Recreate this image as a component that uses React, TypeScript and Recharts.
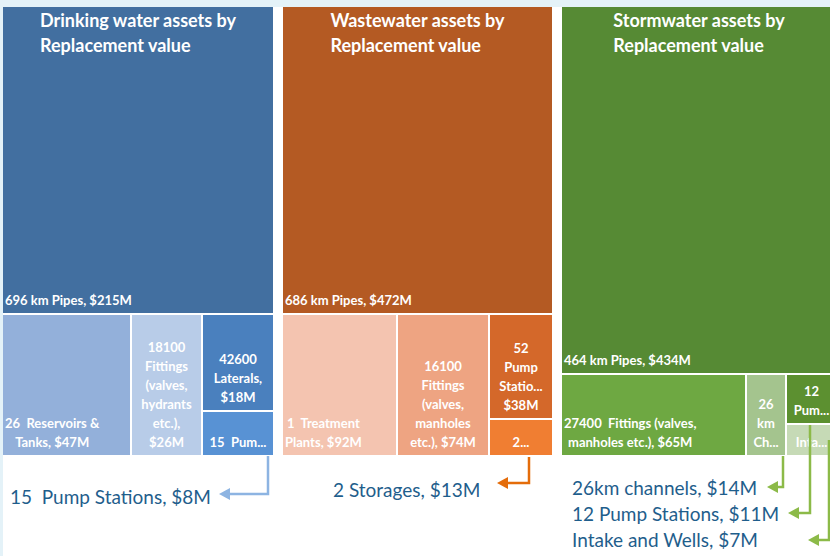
import React from 'react';
import { Treemap } from 'recharts';

// drinking water
const drinkingNames = ['Pipes', 'Reservoirs & Tanks', 'Fittings', 'Laterals', 'Pump Stations'];
const drinkingValues = [215, 47, 26, 18, 8];
const drinkingLabels = [
  ['696 km Pipes, $215M'],
  ['26  Reservoirs &', 'Tanks, $47M'],
  ['18100', 'Fittings', '(valves,', 'hydrants', 'etc.),', '$26M'],
  ['42600', 'Laterals,', '$18M'],
  ['15  Pum...'],
];
const drinkingColors = ['#426FA0', '#93B0DA', '#B8CCE8', '#4A80BE', '#5892D4'];

// wastewater
const wasteNames = ['Pipes', 'Treatment Plants', 'Fittings', 'Pump Stations', 'Storages'];
const wasteValues = [472, 92, 74, 38, 13];
const wasteLabels = [
  ['686 km Pipes, $472M'],
  ['1  Treatment', 'Plants, $92M'],
  ['16100', 'Fittings', '(valves,', 'manholes', 'etc.), $74M'],
  ['52', 'Pump', 'Statio...', '$38M'],
  ['2...'],
];
const wasteColors = ['#B45A23', '#F4C4B0', '#EEA482', '#D4682A', '#F07E32'];

// stormwater
const stormNames = ['Pipes', 'Fittings', 'Channels', 'Pump Stations', 'Intake and Wells'];
const stormValues = [434, 65, 14, 11, 7];
const stormLabels = [
  ['464 km Pipes, $434M'],
  ['27400  Fittings (valves,', 'manholes etc.), $65M'],
  ['26', 'km', 'Ch...'],
  ['12', 'Pum...'],
  ['Inta...'],
];
const stormColors = ['#568A34', '#6EA842', '#A4C48E', '#5C9030', '#C6DAB6'];

const titles = [
  ['Drinking water assets by', 'Replacement value'],
  ['Wastewater assets by', 'Replacement value'],
  ['Stormwater assets by', 'Replacement value'],
];

const callouts = [
  { text: '15  Pump Stations, $8M', color: '#8DB4E2', pts: [[268, 456], [268, 494], [228, 494]], tip: [219, 494], tx: 10, ty: 504 },
  { text: '2 Storages, $13M', color: '#E46C0A', pts: [[529, 457], [529, 483], [506, 483]], tip: [497, 483], tx: 333, ty: 497 },
  { text: '26km channels, $14M', color: '#8CBA48', pts: [[783, 456], [783, 487], [776, 487]], tip: [767, 487], tx: 572, ty: 495 },
  { text: '12 Pump Stations, $11M', color: '#8CBA48', pts: [[810, 425], [810, 513], [797, 513]], tip: [788, 513], tx: 572, ty: 521 },
  { text: 'Intake and Wells, $7M', color: '#8CBA48', pts: [[829, 440], [829, 540], [817, 540]], tip: [808, 540], tx: 572, ty: 547 },
];

const build = (names: string[], values: number[], labels: string[][]) =>
  names.map((name, i) => ({ name, value: values[i], lines: labels[i] }));

const panels = [
  { data: build(drinkingNames, drinkingValues, drinkingLabels), colors: drinkingColors, title: titles[0], left: 2, width: 272 },
  { data: build(wasteNames, wasteValues, wasteLabels), colors: wasteColors, title: titles[1], left: 282, width: 271 },
  { data: build(stormNames, stormValues, stormLabels), colors: stormColors, title: titles[2], left: 561, width: 276 },
];

const FONT = 'Lato, "Open Sans", sans-serif';

function Cell(props: any) {
  const { x, y, width, height, depth, index, lines, colors, title } = props;
  if (depth !== 1) return null;
  const narrow = width < 100;
  return (
    <g>
      <rect x={x + 1} y={y + 1} width={width - 2} height={height - 2} fill={colors[index]} />
      {index === 0 && (
        <foreignObject x={x + 1} y={y + 1} width={width - 2} height={60}>
          <div style={{ display: 'flex', justifyContent: 'center', paddingTop: 1 }}>
            <div style={{ textAlign: 'left', color: '#fff', fontFamily: FONT, fontWeight: 700, fontSize: 18, lineHeight: '25px' }}>
              {title.map((t: string) => <div key={t}>{t}</div>)}
            </div>
          </div>
        </foreignObject>
      )}
      <foreignObject x={x + 1} y={y + 1} width={Math.max(width - 2, 0)} height={Math.max(height - 2, 0)}>
        <div
          style={{
            width: '100%', height: '100%', boxSizing: 'border-box', overflow: 'hidden',
            display: 'flex', flexDirection: 'column', justifyContent: 'flex-end',
            alignItems: narrow ? 'center' : 'flex-start', padding: narrow ? '0 0 3px 0' : '0 3px 3px 2px',
          }}
        >
          <div style={{ textAlign: 'center', color: '#fff', fontFamily: FONT, fontWeight: 700, fontSize: 13, lineHeight: '19px', whiteSpace: 'pre' }}>
            {(lines || []).join('\n')}
          </div>
        </div>
      </foreignObject>
    </g>
  );
}

export default function App() {
  return (
    <div style={{ position: 'absolute', left: 0, top: 0, width: 830, height: 556, overflow: 'hidden', background: '#E4F2F8' }}>
      <div style={{ position: 'absolute', left: 3, top: 7, right: 0, bottom: 0, background: '#fff' }} />
      {panels.map((p, i) => (
        <div key={i} style={{ position: 'absolute', left: p.left, top: 6 }}>
          <Treemap
            width={p.width}
            height={450}
            data={p.data}
            dataKey="value"
            aspectRatio={0.8}
            isAnimationActive={false}
            content={(c: any) => <Cell {...c} colors={p.colors} title={p.title} />}
          />
        </div>
      ))}
      <svg width={830} height={556} style={{ position: 'absolute', left: 0, top: 0, pointerEvents: 'none' }}>
        {callouts.map((c, i) => (
          <g key={i}>
            <polyline points={c.pts.map((q) => q.join(',')).join(' ')} fill="none" stroke={c.color} strokeWidth={2.5} />
            <polygon points={`${c.tip[0]},${c.tip[1]} ${c.tip[0] + 11},${c.tip[1] - 6} ${c.tip[0] + 11},${c.tip[1] + 6}`} fill={c.color} />
            <text x={c.tx} y={c.ty} fill="#1F5E8C" fontFamily={FONT} fontSize={19} style={{ whiteSpace: 'pre' }}>
              {c.text}
            </text>
          </g>
        ))}
      </svg>
    </div>
  );
}
